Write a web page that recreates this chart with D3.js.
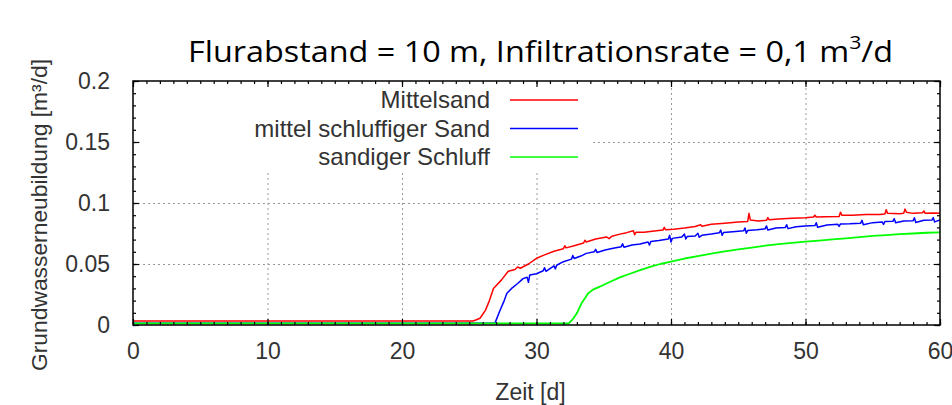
<!DOCTYPE html>
<html>
<head>
<meta charset="utf-8">
<script src="https://cdnjs.cloudflare.com/ajax/libs/d3/7.8.5/d3.min.js"></script>
<style>
  body { margin: 0; background: #fff; }
  .tickText { font-family: "Liberation Sans", Arial, sans-serif; font-size: 23px; fill: #333; }
  .grid line { stroke: #999; stroke-width: 1; stroke-dasharray: 2,3; }
  .grid path { display: none; }
</style>
</head>
<body>
<div id="chart"></div>
<script>
// Data
var seriesNames = ["Mittelsand", "mittel schluffiger Sand", "sandiger Schluff"];
var seriesColors = ["#ff0000", "#0000ff", "#00ff00"];

var xTicks = [0, 10, 20, 30, 40, 50, 60];
var yTicks = [0, 0.05, 0.1, 0.15, 0.2];
var yTickLabels = ["0", "0.05", "0.1", "0.15", "0.2"];

// [Zeit (d), Grundwasserneubildung (m3/d)]
var mittelsand = [
  [0, 0.0033], [25.3, 0.0033], [25.8, 0.0055], [26.2, 0.012], [26.5, 0.02], [26.8, 0.030],
  [27.4, 0.037], [27.9, 0.044], [28.4, 0.0455], [28.6, 0.0475], [28.8, 0.0465], [29.4, 0.050],
  [30.0, 0.0547], [30.6, 0.0575], [31.3, 0.0605], [32.0, 0.0625], [32.1, 0.065], [32.2, 0.0632],
  [32.8, 0.065], [33.5, 0.0672], [33.6, 0.0695], [33.7, 0.068], [34.4, 0.0705], [35.2, 0.0722],
  [35.4, 0.0708], [35.6, 0.0728], [36.2, 0.0745], [36.7, 0.0757], [37.2, 0.0772], [37.3, 0.074],
  [37.4, 0.076], [38.0, 0.076], [38.6, 0.0768], [39.4, 0.0778], [39.5, 0.080], [39.6, 0.078],
  [40.2, 0.0785], [41.0, 0.0795], [41.8, 0.0808], [42.2, 0.0822], [42.3, 0.081], [43.0, 0.0825],
  [44.0, 0.0835], [45.0, 0.0845], [45.7, 0.0848], [45.8, 0.0915], [45.9, 0.086], [46.5, 0.0852],
  [47.1, 0.0858], [47.2, 0.088], [47.3, 0.0862], [48.0, 0.0868], [49.0, 0.0875], [50.0, 0.088],
  [50.6, 0.0885], [50.7, 0.090], [50.8, 0.0885], [51.5, 0.0888], [52.5, 0.089], [52.6, 0.0925],
  [52.7, 0.090], [53.5, 0.090], [54.5, 0.0905], [55.5, 0.0905], [55.9, 0.091], [56.0, 0.0945],
  [56.1, 0.0915], [57.0, 0.0912], [57.3, 0.0915], [57.4, 0.095], [57.5, 0.0925], [58.0, 0.0915],
  [58.7, 0.092], [58.8, 0.0935], [58.9, 0.0915], [59.5, 0.0918], [60, 0.0915]
];

var mittelSchluffigerSand = [
  [0, 0.0014], [26.9, 0.0014], [27.0, 0.004], [27.3, 0.0123], [27.6, 0.020], [27.8, 0.026],
  [28.15, 0.030], [28.6, 0.034], [29.0, 0.038], [29.3, 0.0392], [29.4, 0.035], [29.5, 0.041],
  [30.0, 0.042], [30.5, 0.0445], [30.6, 0.047], [30.7, 0.044], [31.3, 0.0485], [31.4, 0.046],
  [31.5, 0.049], [32.0, 0.0519], [32.6, 0.054], [32.7, 0.057], [32.8, 0.0545], [33.3, 0.0565],
  [33.7, 0.0587], [34.3, 0.0601], [34.4, 0.062], [34.5, 0.0595], [35.1, 0.0615], [35.7, 0.0629],
  [36.3, 0.0642], [36.4, 0.0665], [36.5, 0.0638], [37.1, 0.0655], [37.7, 0.0664], [38.3, 0.068],
  [38.4, 0.0655], [38.5, 0.0685], [39.1, 0.0693], [39.8, 0.0705], [39.9, 0.0735], [40.0, 0.068],
  [40.1, 0.071], [40.8, 0.0722], [41.0, 0.0745], [41.1, 0.0705], [41.2, 0.0725], [41.8, 0.073],
  [42.0, 0.0752], [42.1, 0.072], [42.3, 0.0735], [43.0, 0.0745], [43.6, 0.0757], [43.7, 0.0778],
  [43.8, 0.0735], [43.9, 0.0758], [44.6, 0.0765], [45.4, 0.0772], [45.5, 0.0795], [45.6, 0.0752],
  [45.7, 0.0775], [46.4, 0.078], [47.0, 0.0788], [47.1, 0.0812], [47.2, 0.0778], [47.8, 0.0795],
  [48.5, 0.080], [48.6, 0.0822], [48.7, 0.079], [49.3, 0.0805], [50.0, 0.0811], [50.7, 0.0815],
  [50.8, 0.0838], [50.9, 0.0802], [51.6, 0.082], [52.4, 0.0825], [52.5, 0.0808], [52.6, 0.0828],
  [53.3, 0.083], [54.1, 0.0835], [54.2, 0.0858], [54.3, 0.0822], [55.0, 0.0839], [55.7, 0.0845],
  [55.8, 0.0825], [55.9, 0.0848], [56.5, 0.085], [56.6, 0.0872], [56.7, 0.0838], [57.3, 0.0852],
  [58.0, 0.0855], [58.1, 0.0878], [58.2, 0.084], [58.8, 0.0858], [59.4, 0.086], [59.5, 0.088],
  [59.6, 0.0845], [60, 0.086]
];

var sandigerSchluff = [
  [0, 0.0014], [32.4, 0.0014], [32.75, 0.0055], [33.0, 0.0096], [33.35, 0.0178], [33.85, 0.026],
  [34.2, 0.029], [34.7, 0.0314], [35.4, 0.035], [36.2, 0.039], [37.0, 0.0422], [37.7, 0.045],
  [38.5, 0.0478], [39.2, 0.050], [40.0, 0.0519], [41.0, 0.0545], [42.0, 0.0565], [43.0, 0.0585],
  [44.0, 0.0603], [45.0, 0.062], [46.0, 0.0635], [47.0, 0.065], [48.0, 0.0663], [49.0, 0.0673],
  [50.0, 0.0683], [51.0, 0.0692], [52.0, 0.0702], [53.0, 0.071], [54.0, 0.072], [55.0, 0.073],
  [56.0, 0.0737], [57.0, 0.0745], [58.0, 0.075], [59.0, 0.0756], [60, 0.076]
];

var allSeries = [mittelsand, mittelSchluffigerSand, sandigerSchluff];

var svgWidth = 952;
var svgHeight = 405;
var margin = { top: 81, right: 12, bottom: 80, left: 133 };
var width = svgWidth - margin.left - margin.right;
var height = svgHeight - margin.top - margin.bottom;

var svg = d3.select("#chart")
  .append("svg")
  .attr("width", svgWidth)
  .attr("height", svgHeight);

var chartGroup = svg.append("g")
  .attr("transform", `translate(${margin.left}, ${margin.top})`);

// Scales
var xScale = d3.scaleLinear().domain([0, 60]).range([0, width]);
var yScale = d3.scaleLinear().domain([0, 0.2]).range([height, 0]);

// Grid
chartGroup.append("g")
  .attr("class", "grid")
  .attr("transform", `translate(0, ${height})`)
  .call(d3.axisBottom(xScale).tickValues(xTicks.slice(1, -1)).tickSize(-height).tickFormat(""));

chartGroup.append("g")
  .attr("class", "grid")
  .call(d3.axisLeft(yScale).tickValues(yTicks.slice(1, -1)).tickSize(-width).tickFormat(""));

// Legend background hides the grid behind it
chartGroup.append("rect")
  .attr("x", 8)
  .attr("y", 1)
  .attr("width", 450)
  .attr("height", 90)
  .attr("fill", "#fff");

// Curves
chartGroup.append("clipPath")
  .attr("id", "plotClip")
  .append("rect")
  .attr("width", width)
  .attr("height", height);

var line = d3.line()
  .x(d => xScale(d[0]))
  .y(d => yScale(d[1]));

chartGroup.append("g")
  .attr("clip-path", "url(#plotClip)")
  .selectAll("path")
  .data(allSeries)
  .enter()
  .append("path")
  .attr("d", line)
  .attr("fill", "none")
  .attr("stroke", (d, i) => seriesColors[i])
  .attr("stroke-width", (d, i) => i === 2 ? 1.8 : 1.5)
  .attr("stroke-linejoin", "round");

// Axes (ticks pointing inward, mirrored on top and right)
var minorX = d3.range(0, 61, 1);
var minorY = d3.range(0, 21, 1).map(v => v / 100);

function styleAxis(g) {
  g.select(".domain").remove();
  g.selectAll(".tick line").attr("stroke", "#000").attr("stroke-width", 1.2);
}

chartGroup.append("g")
  .attr("transform", `translate(0, ${height})`)
  .call(d3.axisBottom(xScale).tickValues(minorX).tickSize(-3).tickFormat(""))
  .call(styleAxis);
chartGroup.append("g")
  .call(d3.axisTop(xScale).tickValues(minorX).tickSize(-3).tickFormat(""))
  .call(styleAxis);
chartGroup.append("g")
  .call(d3.axisLeft(yScale).tickValues(minorY).tickSize(-3).tickFormat(""))
  .call(styleAxis);
chartGroup.append("g")
  .attr("transform", `translate(${width}, 0)`)
  .call(d3.axisRight(yScale).tickValues(minorY).tickSize(-3).tickFormat(""))
  .call(styleAxis);

var bottomAxis = chartGroup.append("g")
  .attr("transform", `translate(0, ${height})`)
  .call(d3.axisBottom(xScale).tickValues(xTicks).tickSize(-6).tickPadding(18).tickFormat(d3.format("d")))
  .call(styleAxis);
bottomAxis.selectAll("text").attr("class", "tickText");

chartGroup.append("g")
  .call(d3.axisTop(xScale).tickValues(xTicks).tickSize(-6).tickFormat(""))
  .call(styleAxis);

var leftAxis = chartGroup.append("g")
  .call(d3.axisLeft(yScale).tickValues(yTicks).tickSize(-6).tickPadding(23)
    .tickFormat((d, i) => yTickLabels[i]))
  .call(styleAxis);
leftAxis.selectAll("text").attr("class", "tickText");

chartGroup.append("g")
  .attr("transform", `translate(${width}, 0)`)
  .call(d3.axisRight(yScale).tickValues(yTicks).tickSize(-6).tickFormat(""))
  .call(styleAxis);

chartGroup.selectAll("g text.tickText").attr("fill", null);
chartGroup.selectAll("g").attr("font-family", null).attr("font-size", null);

// Frame
chartGroup.append("rect")
  .attr("width", width)
  .attr("height", height)
  .attr("fill", "none")
  .attr("stroke", "#000")
  .attr("stroke-width", 1.5);

// Legend
var legend = chartGroup.selectAll(".legendItem")
  .data(seriesNames)
  .enter()
  .append("g")
  .attr("transform", (d, i) => `translate(0, ${19 + i * 28.5})`);

legend.append("text")
  .attr("class", "tickText")
  .attr("x", 357)
  .attr("dy", "0.35em")
  .attr("text-anchor", "end")
  .style("font-size", "24px")
  .text(d => d);

legend.append("line")
  .attr("x1", 377)
  .attr("x2", 445)
  .attr("stroke", (d, i) => seriesColors[i])
  .attr("stroke-width", 1.5);

// Axis labels
chartGroup.append("text")
  .attr("class", "tickText")
  .attr("transform", "rotate(-90)")
  .attr("x", -134)
  .attr("y", 0 - margin.left + 39)
  .attr("dy", "0.35em")
  .attr("text-anchor", "middle")
  .attr("textLength", 312)
  .attr("lengthAdjust", "spacingAndGlyphs")
  .style("font-size", "22px")
  .text("Grundwasserneubildung [m³/d]");

chartGroup.append("text")
  .attr("class", "tickText")
  .attr("x", width / 2 - 6)
  .attr("y", height + 75)
  .attr("text-anchor", "middle")
  .text("Zeit [d]");

// Title
var title = svg.append("text")
  .attr("x", 188)
  .attr("y", 62)
  .attr("textLength", 705)
  .attr("lengthAdjust", "spacingAndGlyphs")
  .style("font-family", "'Open Sans', sans-serif")
  .style("font-weight", 370)
  .style("font-size", "29px")
  .style("fill", "#000");
title.append("tspan").text("Flurabstand = 10 m, Infiltrationsrate = 0,1 m");
title.append("tspan").attr("dy", -13).style("font-size", "19px").text("3");
title.append("tspan").attr("dy", 13).text("/d");
</script>
</body>
</html>
